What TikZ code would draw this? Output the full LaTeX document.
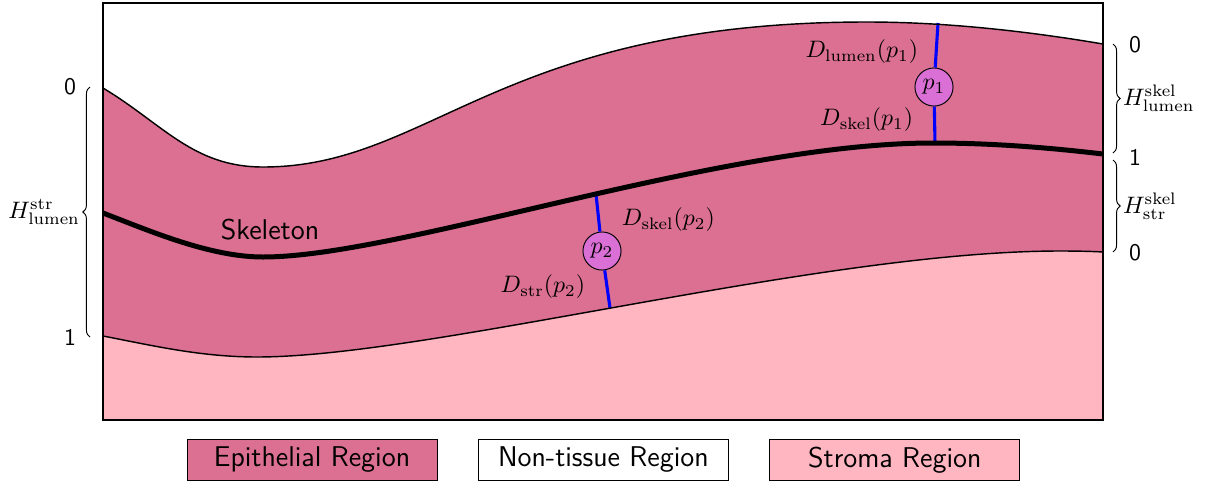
\documentclass[tikz,border=0pt]{standalone}
\usepackage{tikz}
\usetikzlibrary{positioning,decorations.pathreplacing}
\definecolor{epicolor}{RGB}{219,112,147}
\definecolor{stromacolor}{RGB}{255,182,193}
\definecolor{pointcolor}{RGB}{218,112,214}
\tikzset{
  region key/.style={
    rectangle,
    draw=black,
    thin,
    minimum width=105pt,
    minimum height=17.2pt,
    font=\sffamily\large,
    inner sep=2pt,
  },
  probe point/.style={circle, draw=black, thin, fill=pointcolor, minimum size=16pt, inner sep=0pt},
  probe line/.style={blue, line width=1.3pt},
  tissue line/.style={line width=0.6pt},
  skeleton line/.style={line width=2.1pt},
  dist label/.style={inner sep=1pt},
  height brace/.style={decorate, decoration={brace, amplitude=3pt}, thin},
  scale label/.style={font=\sffamily, inner sep=1pt},
}

\begin{document}
\begin{tikzpicture}[x=0.42pt, y=-0.42pt, node distance=5mm and 17pt]
  \useasboundingbox (0,0) rectangle (1206,485);

  % tissue below the lumen border, then stroma below its border
  \fill[epicolor] (103,88) .. controls (163,124) and (193,167) .. (263,167)
    .. controls (431,167) and (499,22) .. (867,22)
    .. controls (960,22) and (1050,35) .. (1103,44)
    -- (1103,420) -- (103,420) -- cycle;
  \fill[stromacolor] (103,336) .. controls (150,345) and (200,357) .. (257,357)
    .. controls (430,357) and (820,251) .. (1060,251)
    .. controls (1080,251) and (1095,251.5) .. (1103,252)
    -- (1103,420) -- (103,420) -- cycle;

  % points on the borders
  \coordinate (lumen1) at (938,23);
  \coordinate (skel1) at (935,143);
  \coordinate (skel2) at (596,194);
  \coordinate (str2) at (610,308);

  \node[probe point] (p1) at (934,87) {$p_1$};
  \node[probe point] (p2) at (602,251) {$p_2$};

  \draw[probe line] (lumen1) -- (p1);
  \draw[probe line] (p1) -- (skel1);
  \draw[probe line] (skel2) -- (p2);
  \draw[probe line] (p2) -- (str2);

  \draw[tissue line] (103,88) .. controls (163,124) and (193,167) .. (263,167)
    .. controls (431,167) and (499,22) .. (867,22)
    .. controls (960,22) and (1050,35) .. (1103,44);
  \draw[skeleton line] (103,213) .. controls (150,231) and (210,257) .. (263,257)
    .. controls (400,257) and (720,143) .. (933,143)
    .. controls (1000,143) and (1060,149) .. (1103,154);
  \draw[tissue line] (103,336) .. controls (150,345) and (200,357) .. (257,357)
    .. controls (430,357) and (820,251) .. (1060,251)
    .. controls (1080,251) and (1095,251.5) .. (1103,252);

  \draw[thick] (103,3) rectangle (1103,420);

  \node[font=\sffamily\large] (skel) at (270,230) {Skeleton};

  \node[dist label, anchor=east] (dl1) at (921,52) {$D_{\mathrm{lumen}}(p_1)$};
  \node[dist label, anchor=east] (ds1) at (916,120) {$D_{\mathrm{skel}}(p_1)$};
  \node[dist label, anchor=west] (ds2) at (619,220) {$D_{\mathrm{skel}}(p_2)$};
  \node[dist label, anchor=east] (dt2) at (588,287) {$D_{\mathrm{str}}(p_2)$};

  % height scales
  \draw[height brace] (90,337) -- (90,87)
    node[midway, left=4pt, inner sep=0pt] (hstr) {$H^{\mathrm{str}}_{\mathrm{lumen}}$};
  \node[scale label] (l0) at (70,87) {0};
  \node[scale label] (l1) at (70,337) {1};

  \draw[height brace] (1113,44) -- (1113,153)
    node[midway, right=4pt, inner sep=0pt] (hskl) {$H^{\mathrm{skel}}_{\mathrm{lumen}}$};
  \draw[height brace] (1113,160) -- (1113,252)
    node[midway, right=4pt, inner sep=0pt] (hsks) {$H^{\mathrm{skel}}_{\mathrm{str}}$};
  \node[scale label] (r0) at (1135,45) {0};
  \node[scale label] (r1) at (1135,157) {1};
  \node[scale label] (r2) at (1135,253) {0};

  % legend
  \node[region key, fill=epicolor] (epi) at (312,460) {Epithelial Region};
  \node[region key, fill=white, right=of epi] (non) {Non-tissue Region};
  \node[region key, fill=stromacolor, right=of non] (str) {Stroma Region};
\end{tikzpicture}
\end{document}
